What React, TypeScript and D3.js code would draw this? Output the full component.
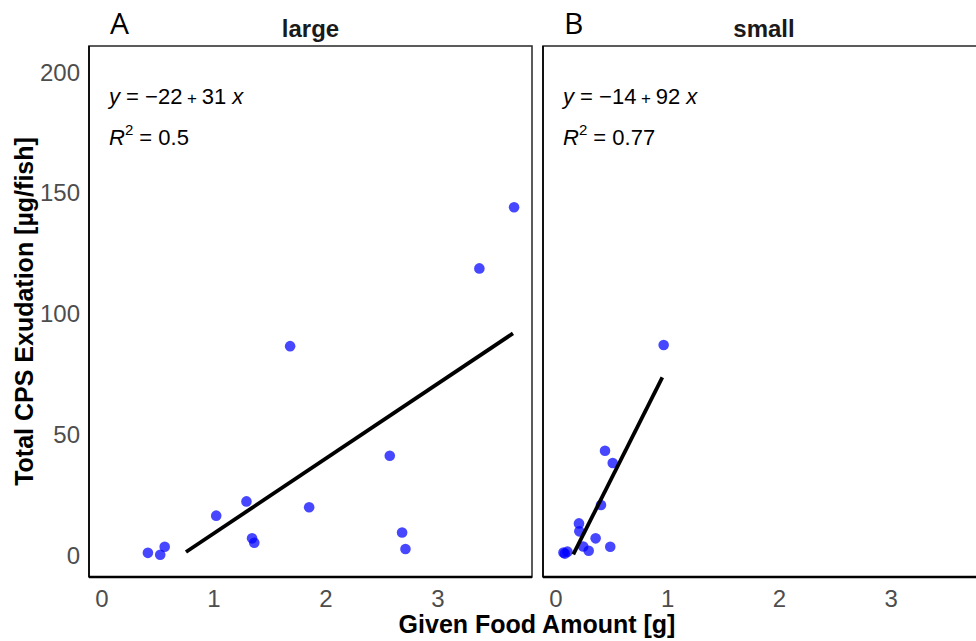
import React, { useEffect, useRef } from 'react';
import * as d3 from 'd3';

// panel A: large fish
const largeFood = [0.41, 0.52, 0.56, 1.02, 1.29, 1.34, 1.36, 1.68, 1.85, 2.57, 2.68, 2.71, 3.37, 3.68];
const largeCps = [0.9, 0.1, 3.4, 16.3, 22.2, 6.9, 5.1, 86.5, 19.8, 41.1, 9.3, 2.5, 118.7, 144];

// panel B: small fish
const smallFood = [0.067, 0.08, 0.103, 0.206, 0.209, 0.244, 0.293, 0.355, 0.403, 0.439, 0.486, 0.508, 0.964];
const smallCps = [1.0, 0.6, 1.4, 13.1, 9.8, 3.5, 1.8, 6.9, 20.7, 43.2, 3.4, 38.1, 87.0];

const panelNames = ['large', 'small'];
const panelTags = ['A', 'B'];
const fitIntercept = [-22, -14];
const fitSlope = [31, 92];
const fitR2 = ['0.5', '0.77'];
const fitFrom = [0.75, 0.155];
const fitTo = [3.67, 0.952];

const xTicks = [0, 1, 2, 3];
const yTicks = [0, 50, 100, 150, 200];

const App = () => {
  const svgRef = useRef<SVGSVGElement>(null);

  useEffect(() => {
    const svg = d3.select(svgRef.current);
    svg.selectAll('*').remove();

    const top = 46;
    const bottom = 577;
    const panels = [
      { left: 89, right: 532, xs: largeFood, ys: largeCps },
      { left: 543, right: 985, xs: smallFood, ys: smallCps },
    ];

    const y = d3.scaleLinear().domain([-9.1, 210.8]).range([bottom, top]);
    const font = 'Arial, "Liberation Sans", sans-serif';

    panels.forEach((p, i) => {
      const x = d3.scaleLinear().domain([-0.116, 3.84]).range([p.left, p.right]);
      const g = svg.append('g');

      g.append('rect')
        .attr('x', p.left)
        .attr('y', top)
        .attr('width', p.right - p.left)
        .attr('height', bottom - top)
        .attr('fill', 'white')
        .attr('stroke', '#333')
        .attr('stroke-width', 1.6);

      // axis lines
      g.append('line')
        .attr('x1', p.left).attr('x2', p.right)
        .attr('y1', bottom).attr('y2', bottom)
        .attr('stroke', 'black').attr('stroke-width', 2.4);
      g.append('line')
        .attr('x1', p.left).attr('x2', p.left)
        .attr('y1', top).attr('y2', bottom)
        .attr('stroke', 'black').attr('stroke-width', 1.6);

      // x tick labels
      g.selectAll('.xt')
        .data(xTicks)
        .enter().append('text')
        .attr('x', d => x(d))
        .attr('y', 607)
        .attr('text-anchor', 'middle')
        .attr('font-family', font)
        .attr('font-size', 24)
        .attr('fill', '#4d4d4d')
        .text(d => d);

      // points
      g.selectAll('circle')
        .data(p.xs.map((v, k) => [v, p.ys[k]]))
        .enter().append('circle')
        .attr('cx', d => x(d[0]))
        .attr('cy', d => y(d[1]))
        .attr('r', 5.3)
        .attr('fill', '#0000ff')
        .attr('fill-opacity', 0.72);

      // fitted line
      const line = d3.line<number>()
        .x(d => x(d))
        .y(d => y(fitIntercept[i] + fitSlope[i] * d));
      g.append('path')
        .attr('d', line([fitFrom[i], fitTo[i]]))
        .attr('stroke', 'black')
        .attr('stroke-width', 3.8)
        .attr('fill', 'none');

      // equation
      const eq = g.append('text')
        .attr('x', p.left + 20)
        .attr('y', 104)
        .attr('font-family', font)
        .attr('font-size', 22)
        .attr('fill', 'black')
        .attr('xml:space', 'preserve');
      eq.append('tspan').attr('font-style', 'italic').text('y');
      eq.append('tspan').text(` = \u2212${Math.abs(fitIntercept[i])}`);
      eq.append('tspan').attr('font-size', 17).text(' + ');
      eq.append('tspan').text(`${fitSlope[i]} `);
      eq.append('tspan').attr('font-style', 'italic').text('x');

      const r2 = g.append('text')
        .attr('x', p.left + 20)
        .attr('y', 145)
        .attr('font-family', font)
        .attr('font-size', 22)
        .attr('fill', 'black');
      r2.append('tspan').attr('font-style', 'italic').text('R');
      r2.append('tspan').attr('font-size', 15).attr('dy', -10).text('2');
      r2.append('tspan').attr('dy', 10).text(` = ${fitR2[i]}`);

      // strip title
      g.append('text')
        .attr('x', (p.left + p.right) / 2)
        .attr('y', 37)
        .attr('text-anchor', 'middle')
        .attr('font-family', font)
        .attr('font-weight', 'bold')
        .attr('font-size', 24)
        .attr('fill', '#1a1a1a')
        .text(panelNames[i]);

      // panel tag
      g.append('text')
        .attr('x', p.left + 21)
        .attr('y', 34)
        .attr('font-family', '"Open Sans", "Noto Sans", sans-serif')
        .attr('font-size', 30)
        .attr('fill', 'black')
        .text(panelTags[i]);
    });

    // y tick labels
    svg.selectAll('.yt')
      .data(yTicks)
      .enter().append('text')
      .attr('x', 80)
      .attr('y', d => y(d))
      .attr('dy', '0.36em')
      .attr('text-anchor', 'end')
      .attr('font-family', font)
      .attr('font-size', 24)
      .attr('fill', '#4d4d4d')
      .text(d => d);

    // axis titles
    svg.append('text')
      .attr('x', 537)
      .attr('y', 633)
      .attr('text-anchor', 'middle')
      .attr('font-family', font)
      .attr('font-weight', 'bold')
      .attr('font-size', 25)
      .attr('fill', 'black')
      .text('Given Food Amount [g]');

    svg.append('text')
      .attr('transform', `translate(33,${(top + bottom) / 2}) rotate(-90)`)
      .attr('text-anchor', 'middle')
      .attr('font-family', font)
      .attr('font-weight', 'bold')
      .attr('font-size', 25)
      .attr('fill', 'black')
      .text('Total CPS Exudation [\u00b5g/fish]');
  }, []);

  return (
    <svg ref={svgRef} width="976" height="641"
      style={{ position: 'absolute', left: 0, top: 0, background: 'white' }}></svg>
  );
};

export default App;
